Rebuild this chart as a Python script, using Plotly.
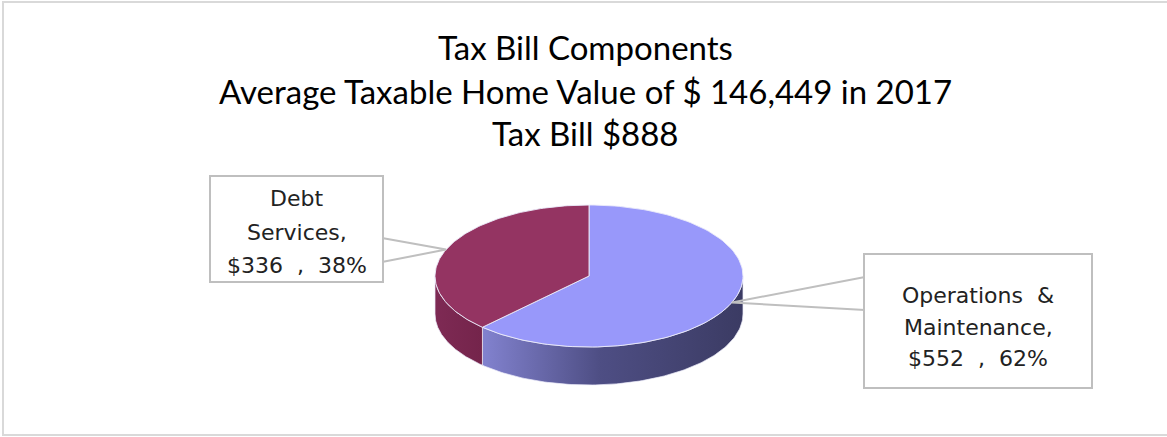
import numpy as np
import plotly.graph_objects as go

# Tax bill components (dollars)
categories = ["Operations & Maintenance", "Debt Services"]
values = [552, 336]
label_lines = [["Operations  &", "Maintenance,"], ["Debt", "Services,"]]
title_lines = [
    "Tax Bill Components",
    "Average Taxable Home Value of $ 146,449 in 2017",
    "Tax Bill $888",
]

# Styling
top_colors = ["#9898FA", "#943462"]
side_fills = [
    dict(type="horizontal", colorscale=[[0, "#8282CF"], [0.45, "#4E4E84"], [1, "#3B3B63"]]),
    dict(type="horizontal", colorscale=[[0, "#7E2A54"], [1, "#74244B"]]),
]
edge_color = "rgba(235,235,250,0.9)"
callout_color = "#BFBFBF"

# Pie geometry (pixel space, y grows downward)
CX, CY, RX, RY, DEPTH = 589, 276, 154, 71, 38
W, H = 1167, 437


def rim(a0, a1, n=120):
    phi = np.radians(np.linspace(a0, a1, n))
    return CX + RX * np.sin(phi), CY - RY * np.cos(phi)


total = sum(values)
angles = np.concatenate([[0], np.cumsum(values) / total * 360.0])

fig = go.Figure()

# Side walls (only the front half of the disc is visible)
for i in range(len(values)):
    a0, a1 = max(angles[i], 90), min(angles[i + 1], 270)
    if a1 <= a0:
        continue
    xs, ys = rim(a0, a1)
    px = np.concatenate([xs, xs[::-1], xs[:1]])
    py = np.concatenate([ys, ys[::-1] + DEPTH, ys[:1]])
    fig.add_trace(go.Scatter(
        x=px, y=py, mode="lines", fill="toself",
        fillgradient=side_fills[i],
        line=dict(color=edge_color, width=0.8),
        hoverinfo="skip",
    ))

# Top faces
for i in range(len(values)):
    xs, ys = rim(angles[i], angles[i + 1])
    px = np.concatenate([[CX], xs, [CX]])
    py = np.concatenate([[CY], ys, [CY]])
    fig.add_trace(go.Scatter(
        x=px, y=py, mode="lines", fill="toself", fillcolor=top_colors[i],
        line=dict(color=edge_color, width=1),
        hoverinfo="skip",
    ))

# Label boxes: (x0, y0, x1, y1), callout base points on the box edge, text line centres
boxes = [(864, 254, 1092, 388), (210, 176, 383, 282)]
callout_bases = [((865, 277), (865, 310)), ((382, 238), (382, 262))]
text_rows = [[295, 327, 358], [198, 232, 265]]

shapes = [dict(type="rect", xref="x", yref="y", x0=3, y0=2, x1=W + 20, y1=435,
               line=dict(color="#D9D9D9", width=2), layer="below")]
annotations = []

for i in range(len(values)):
    mid = (angles[i] + angles[i + 1]) / 2
    ax, ay = rim(mid, mid, 1)
    (b1x, b1y), (b2x, b2y) = callout_bases[i]
    fig.add_trace(go.Scatter(
        x=[b1x, ax[0], b2x], y=[b1y, ay[0], b2y], mode="lines",
        line=dict(color=callout_color, width=2), hoverinfo="skip",
    ))
    x0, y0, x1, y1 = boxes[i]
    shapes.append(dict(type="rect", xref="x", yref="y", x0=x0, y0=y0, x1=x1, y1=y1,
                       line=dict(color=callout_color, width=2), fillcolor="white"))
    pct = round(values[i] / total * 100)
    lines = label_lines[i] + [f"${values[i]}  ,  {pct}%"]
    for txt, ty in zip(lines, text_rows[i]):
        annotations.append(dict(
            x=(x0 + x1) / 2, y=ty, xref="x", yref="y", text=txt, showarrow=False,
            font=dict(family="DejaVu Sans", size=22, color="#222222"),
            xanchor="center", yanchor="middle",
        ))

for txt, ty in zip(title_lines, [47, 91, 133]):
    annotations.append(dict(
        x=W / 2 + 2, y=ty, xref="x", yref="y", text=txt, showarrow=False,
        font=dict(family="Lato", size=33, color="black"),
        xanchor="center", yanchor="middle",
    ))

fig.update_layout(
    width=W, height=H, autosize=False,
    margin=dict(l=0, r=0, t=0, b=0),
    paper_bgcolor="white", plot_bgcolor="white",
    showlegend=False,
    xaxis=dict(range=[0, W], visible=False, fixedrange=True),
    yaxis=dict(range=[H, 0], visible=False, fixedrange=True),
    shapes=shapes,
    annotations=annotations,
)

fig.write_html("out.html")
